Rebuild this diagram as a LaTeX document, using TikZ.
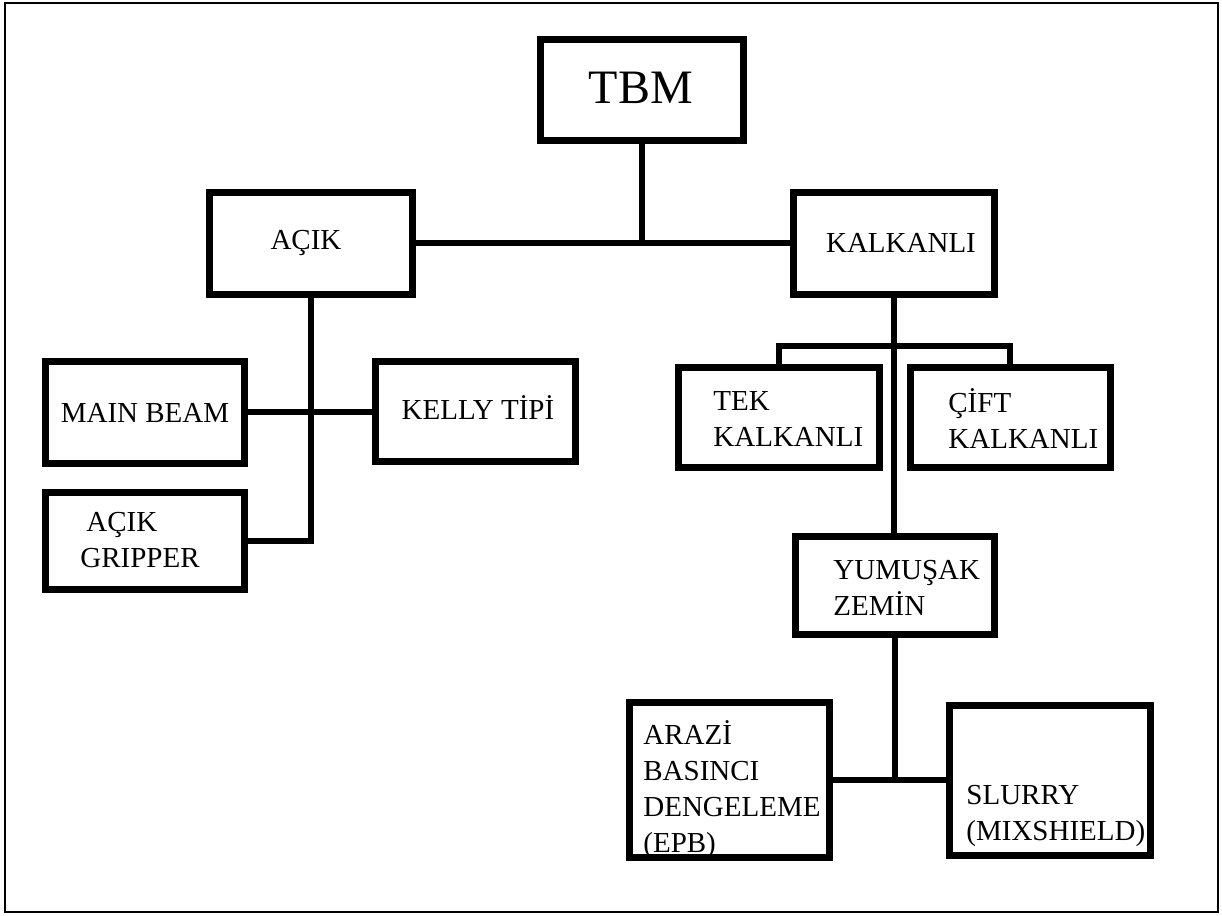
\documentclass[tikz,border=0pt]{standalone}
\usepackage{fontspec}
\setmainfont{Liberation Serif}
\begin{document}
\begin{tikzpicture}[x=0.5pt,y=-0.5pt,
  box/.style={draw=black, line width=3.5pt, fill=white, inner sep=0pt},
  conn/.style={draw=black, line width=3pt},
  txt/.style={font=\fontsize{14.5}{18}\selectfont, align=left, inner sep=0pt},
  ctxt/.style={font=\fontsize{14.5}{18}\selectfont, align=center, inner sep=0pt}]
\useasboundingbox (0,0) rectangle (1222,916);
\draw[line width=1pt] (5,3) rectangle (1218,912);

% boxes
\node[box, minimum width=101.5pt, minimum height=50.5pt] (tbm) at (641.5,90) {};
\node[box, minimum width=101.5pt, minimum height=51pt] (acik) at (310.5,243) {};
\node[box, minimum width=100.5pt, minimum height=51pt] (kalk) at (894,243) {};
\node[box, minimum width=99.5pt, minimum height=51pt] (mb) at (144.5,412) {};
\node[box, minimum width=100pt, minimum height=50pt] (kelly) at (475,411) {};
\node[box, minimum width=99.5pt, minimum height=48.5pt] (grip) at (144.5,540.5) {};
\node[box, minimum width=100.5pt, minimum height=50pt] (tek) at (778.5,417) {};
\node[box, minimum width=100pt, minimum height=50pt] (cift) at (1010,417) {};
\node[box, minimum width=99.5pt, minimum height=49pt] (yum) at (894.5,585) {};
\node[box, minimum width=100pt, minimum height=77.5pt] (epb) at (729,779.5) {};
\node[box, minimum width=100.5pt, minimum height=75pt] (slur) at (1049.5,780) {};

% texts
\node[ctxt, font=\fontsize{24}{28}\selectfont] (ttbm) at (641,88) {TBM};
\node[ctxt] (tacik) at (306,243) {AÇIK};
\node[ctxt] (tkalk) at (901,243) {KALKANLI};
\node[ctxt] (tmb) at (145,413) {MAIN BEAM};
\node[ctxt] (tkelly) at (478,408) {KELLY TİPİ};
\node[txt, anchor=west] (tgrip) at (80,540) {\hspace*{3pt}AÇIK\\GRIPPER};
\node[txt, anchor=west] (ttek) at (713,419) {TEK\\KALKANLI};
\node[txt, anchor=west] (tcift) at (948,419) {ÇİFT\\KALKANLI};
\node[txt, anchor=west] (tyum) at (833,588) {YUMUŞAK\\ZEMİN};
\node[txt, anchor=west] (tepb) at (643,790) {ARAZİ\\BASINCI\\DENGELEME\\(EPB)};
\node[txt, anchor=west] (tslur) at (966,816) {SLURRY\\(MIXSHIELD)};

% connectors
\coordinate (j1) at (641.5,244);
\coordinate (br) at (894,346);
\draw[conn] (tbm.south) -- (j1);
\draw[conn] (acik.east) -- (kalk.west);
\draw[conn] (acik.south) |- (grip.east);
\draw[conn] (mb.east) -- (mb.east -| kelly.west);
\draw[conn] (kalk.south) -- (kalk.south |- yum.north);
\draw[conn] (tek.north) -- (tek.north |- br) -- (cift.north |- br) -- (cift.north);
\draw[conn] (yum.south) -- (yum.south |- epb.east);
\draw[conn] (epb.east) -- (epb.east -| slur.west);
\end{tikzpicture}
\end{document}
